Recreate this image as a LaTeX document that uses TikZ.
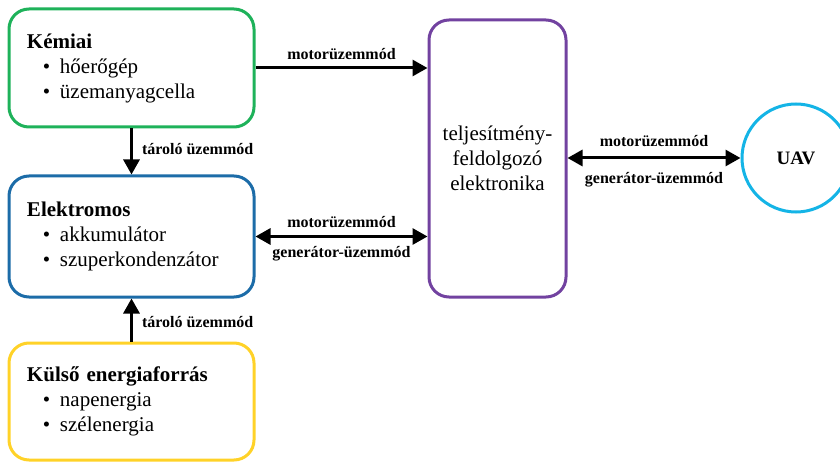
\documentclass[tikz,border=0pt]{standalone}
\usepackage{fontspec}
\setmainfont{Liberation Serif}
\usetikzlibrary{arrows.meta}
\definecolor{cgreen}{RGB}{30,178,90}
\definecolor{cblue}{RGB}{28,108,168}
\definecolor{cyellow}{RGB}{255,210,40}
\definecolor{cpurple}{RGB}{114,66,160}
\definecolor{ccyan}{RGB}{20,180,230}
\newcommand{\bitem}[1]{\hspace*{16pt}\makebox[17pt][l]{\textbullet}#1}
\begin{document}
\begin{tikzpicture}[x=1pt,y=-1pt,
  box/.style={draw, line width=3pt, rounded corners=20pt, minimum width=245pt,
    inner sep=0pt, align=left, text width=209pt, font=\fontsize{21}{25}\selectfont},
  pbox/.style={draw=cpurple, line width=3pt, rounded corners=20pt, minimum width=137pt,
    minimum height=277pt, inner sep=0pt, align=center, font=\fontsize{21}{25}\selectfont},
  uavnode/.style={draw=ccyan, line width=3pt, circle, minimum size=108pt, inner sep=0pt,
    font=\fontsize{19}{23}\selectfont\bfseries},
  lab/.style={font=\fontsize{16}{18}\selectfont\bfseries, inner sep=0pt},
  conn/.style={line width=3pt, -{Triangle[length=15pt,width=16pt]}},
  biconn/.style={line width=3pt, {Triangle[length=15pt,width=16pt]}-{Triangle[length=15pt,width=16pt]}}
]
\useasboundingbox (0,0) rectangle (840,462);
\clip (0,0) rectangle (840,462);

\node[box, draw=cgreen, minimum height=118pt] (kem) at (131.5,68)
  {\textbf{Kémiai}\\\bitem{hőerőgép}\\\bitem{üzemanyagcella}};
\node[box, draw=cblue, minimum height=121pt] (el) at (131.5,236.5)
  {\textbf{Elektromos}\\\bitem{akkumulátor}\\\bitem{szuperkondenzátor}};
\node[box, draw=cyellow, minimum height=117pt] (kul) at (131.5,401.5)
  {\textbf{Külső energiaforrás}\\\bitem{napenergia}\\\bitem{szélenergia}};
\node[pbox] (pe) at (497.5,158.5) {teljesítmény-\\feldolgozó\\elektronika};
\node[uavnode] (uav) at (796,158) {UAV};

\draw[conn] (kem.east) -- (kem.east -| pe.west)
  node[lab, midway, anchor=base, yshift=8pt] {motorüzemmód};
\draw[biconn] (el.east) -- (el.east -| pe.west)
  node[lab, midway, anchor=base, yshift=9pt] {motorüzemmód}
  node[lab, midway, anchor=base, yshift=-21pt] {generátor-üzemmód};
\draw[biconn] (pe.east |- uav.west) -- (uav.west)
  node[lab, midway, anchor=base, yshift=11pt] {motorüzemmód}
  node[lab, midway, anchor=base, yshift=-26pt] {generátor-üzemmód};
\draw[conn] (kem.south) -- (el.north)
  node[lab, midway, anchor=west, xshift=9pt, yshift=2pt] {tároló üzemmód};
\draw[conn] (kul.north) -- (el.south)
  node[lab, midway, anchor=west, xshift=9pt, yshift=-2pt] {tároló üzemmód};
\end{tikzpicture}
\end{document}
